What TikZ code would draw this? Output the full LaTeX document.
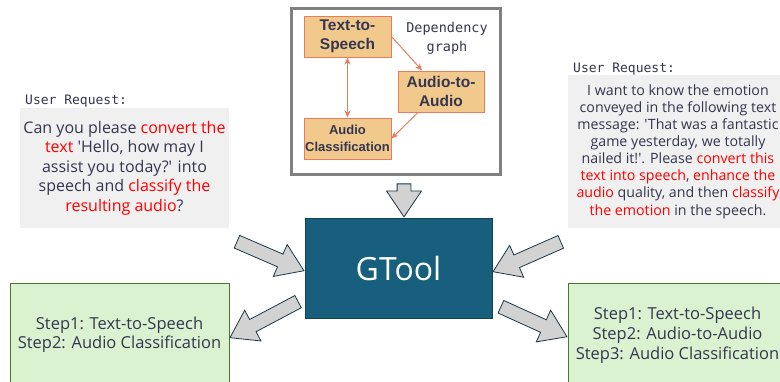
\documentclass[tikz,border=0pt]{standalone}
\usepackage{fontspec}
\setmainfont{Open Sans}[Ligatures=TeXOff]
\newfontfamily\boxfont{Liberation Sans}
\setmonofont{DejaVu Sans Mono}
\usetikzlibrary{shapes.arrows,positioning,arrows.meta}

\definecolor{reqgray}{RGB}{240,240,240}
\definecolor{inkblue}{RGB}{52,54,80}
\definecolor{depline}{RGB}{128,128,128}
\definecolor{nodefill}{RGB}{242,201,140}
\definecolor{nodeline}{RGB}{234,124,94}
\definecolor{toolblue}{RGB}{24,94,125}
\definecolor{stepgreen}{RGB}{218,242,208}
\definecolor{stepline}{RGB}{70,120,50}
\definecolor{arrgray}{RGB}{210,210,210}
\definecolor{arrline}{RGB}{30,55,70}

\newcommand\keyp[1]{\textcolor{red}{#1}}

\begin{document}
\begin{tikzpicture}[x=1pt, y=-1pt, >={Stealth[length=7pt,width=6pt]},
  depnode/.style={draw=nodeline, fill=nodefill, line width=1pt,
    minimum width=87pt, minimum height=41pt, inner sep=0pt,
    align=center, text=inkblue, font=\boxfont\bfseries},
  deparrow/.style={draw=nodeline, line width=1pt},
  reqbox/.style={fill=reqgray, inner sep=0pt, align=center, text=inkblue},
  reqlabel/.style={anchor=west, inner sep=0pt, text=inkblue,
    font=\ttfamily\fontsize{13}{15}\selectfont},
  stepbox/.style={draw=stepline, fill=stepgreen, line width=0.8pt,
    inner sep=0pt, align=center, text=inkblue},
  bigarrow/.style={single arrow, draw=arrline, fill=arrgray, line width=0.8pt,
    inner xsep=0pt, inner ysep=6.5pt, single arrow head extend=10.5pt,
    single arrow tip angle=68, anchor=tip}
  ]

  \useasboundingbox (0,0) rectangle (780,381);
  \clip (0,0) rectangle (780,381);

  % dependency graph
  \node[draw=depline, line width=3pt, minimum width=209pt, minimum height=166pt]
    (depbox) at (395.5,91) {};
  \node[align=center, inner sep=0pt, text=inkblue,
    font=\ttfamily\fontsize{13.5}{19}\selectfont]
    (deplabel) at (447,38) {Dependency\\graph};

  \node[depnode, font=\boxfont\bfseries\fontsize{15.5}{19}\selectfont]
    (tts) at (347.5,36.5) {Text-to-\\Speech};
  \node[depnode, minimum width=86pt, font=\boxfont\bfseries\fontsize{15.5}{19}\selectfont]
    (a2a) at (441,91.5) {Audio-to-\\Audio};
  \node[depnode, font=\boxfont\bfseries\fontsize{13}{17}\selectfont]
    (acls) at (347.5,138.5) {Audio\\Classification};

  \draw[deparrow, ->] (tts.east) -- (a2a);
  \draw[deparrow, <->] (tts.south) -- (acls.north);
  \draw[deparrow, ->] ([xshift=-23pt]a2a.south) -- (acls.east);

  % user requests
  \node[reqlabel] (reqA) at (25,101) {User Request:};
  \node[reqbox, minimum width=209pt, minimum height=120pt,
    font=\fontsize{16}{19.5}\selectfont] (askA) at (124.5,168)
    {Can you please \keyp{convert the}\\
     \keyp{text} 'Hello, how may I\\
     assist you today?' into\\
     speech and \keyp{classify the}\\
     \keyp{resulting audio}?};

  \node[reqlabel] (reqB) at (573,69) {User Request:};
  \node[reqbox, minimum width=220pt, minimum height=153pt,
    font=\fontsize{14.2}{17.1}\selectfont] (askB) at (678,151.5)
    {I want to know the emotion\\
     conveyed in the following text\\
     message: 'That was a fantastic\\
     game yesterday, we totally\\
     nailed it!'. Please \keyp{convert this}\\
     \keyp{text into speech}, \keyp{enhance the}\\
     \keyp{audio} quality, and then \keyp{classify}\\
     \keyp{the emotion} in the speech.};

  % tool
  \node[draw=toolblue!70!black, fill=toolblue, line width=0.8pt,
    minimum width=187pt, minimum height=100pt, text=white,
    font=\fontsize{32}{36}\selectfont] (gtool) at (398.5,268) {GTool};

  % plans
  \node[stepbox, minimum width=219pt, minimum height=103pt,
    font=\fontsize{16.5}{19.5}\selectfont] (stepA) at (119.5,334.5)
    {Step1: Text-to-Speech\\Step2: Audio Classification};
  \node[stepbox, minimum width=219pt, minimum height=104pt,
    font=\fontsize{16.5}{19.8}\selectfont] (stepB) at (677.5,335)
    {Step1: Text-to-Speech\\Step2: Audio-to-Audio\\Step3: Audio Classification};

  % block arrows
  \node[bigarrow, rotate=-90, minimum height=33pt] (inG) at ([xshift=5.5pt]gtool.north) {};
  \node[bigarrow, rotate=-23.4, minimum height=73pt] (inA) at ([yshift=-3pt]gtool.west) {};
  \node[bigarrow, rotate=203.8, minimum height=74pt] (inB) at ([yshift=-4pt]gtool.east) {};
  \node[bigarrow, rotate=207.9, minimum height=77pt] (outA) at ([yshift=-3.5pt]stepA.east) {};
  \node[bigarrow, rotate=-24.4, minimum height=72.5pt] (outB) at ([yshift=-2pt]stepB.west) {};

\end{tikzpicture}
\end{document}
